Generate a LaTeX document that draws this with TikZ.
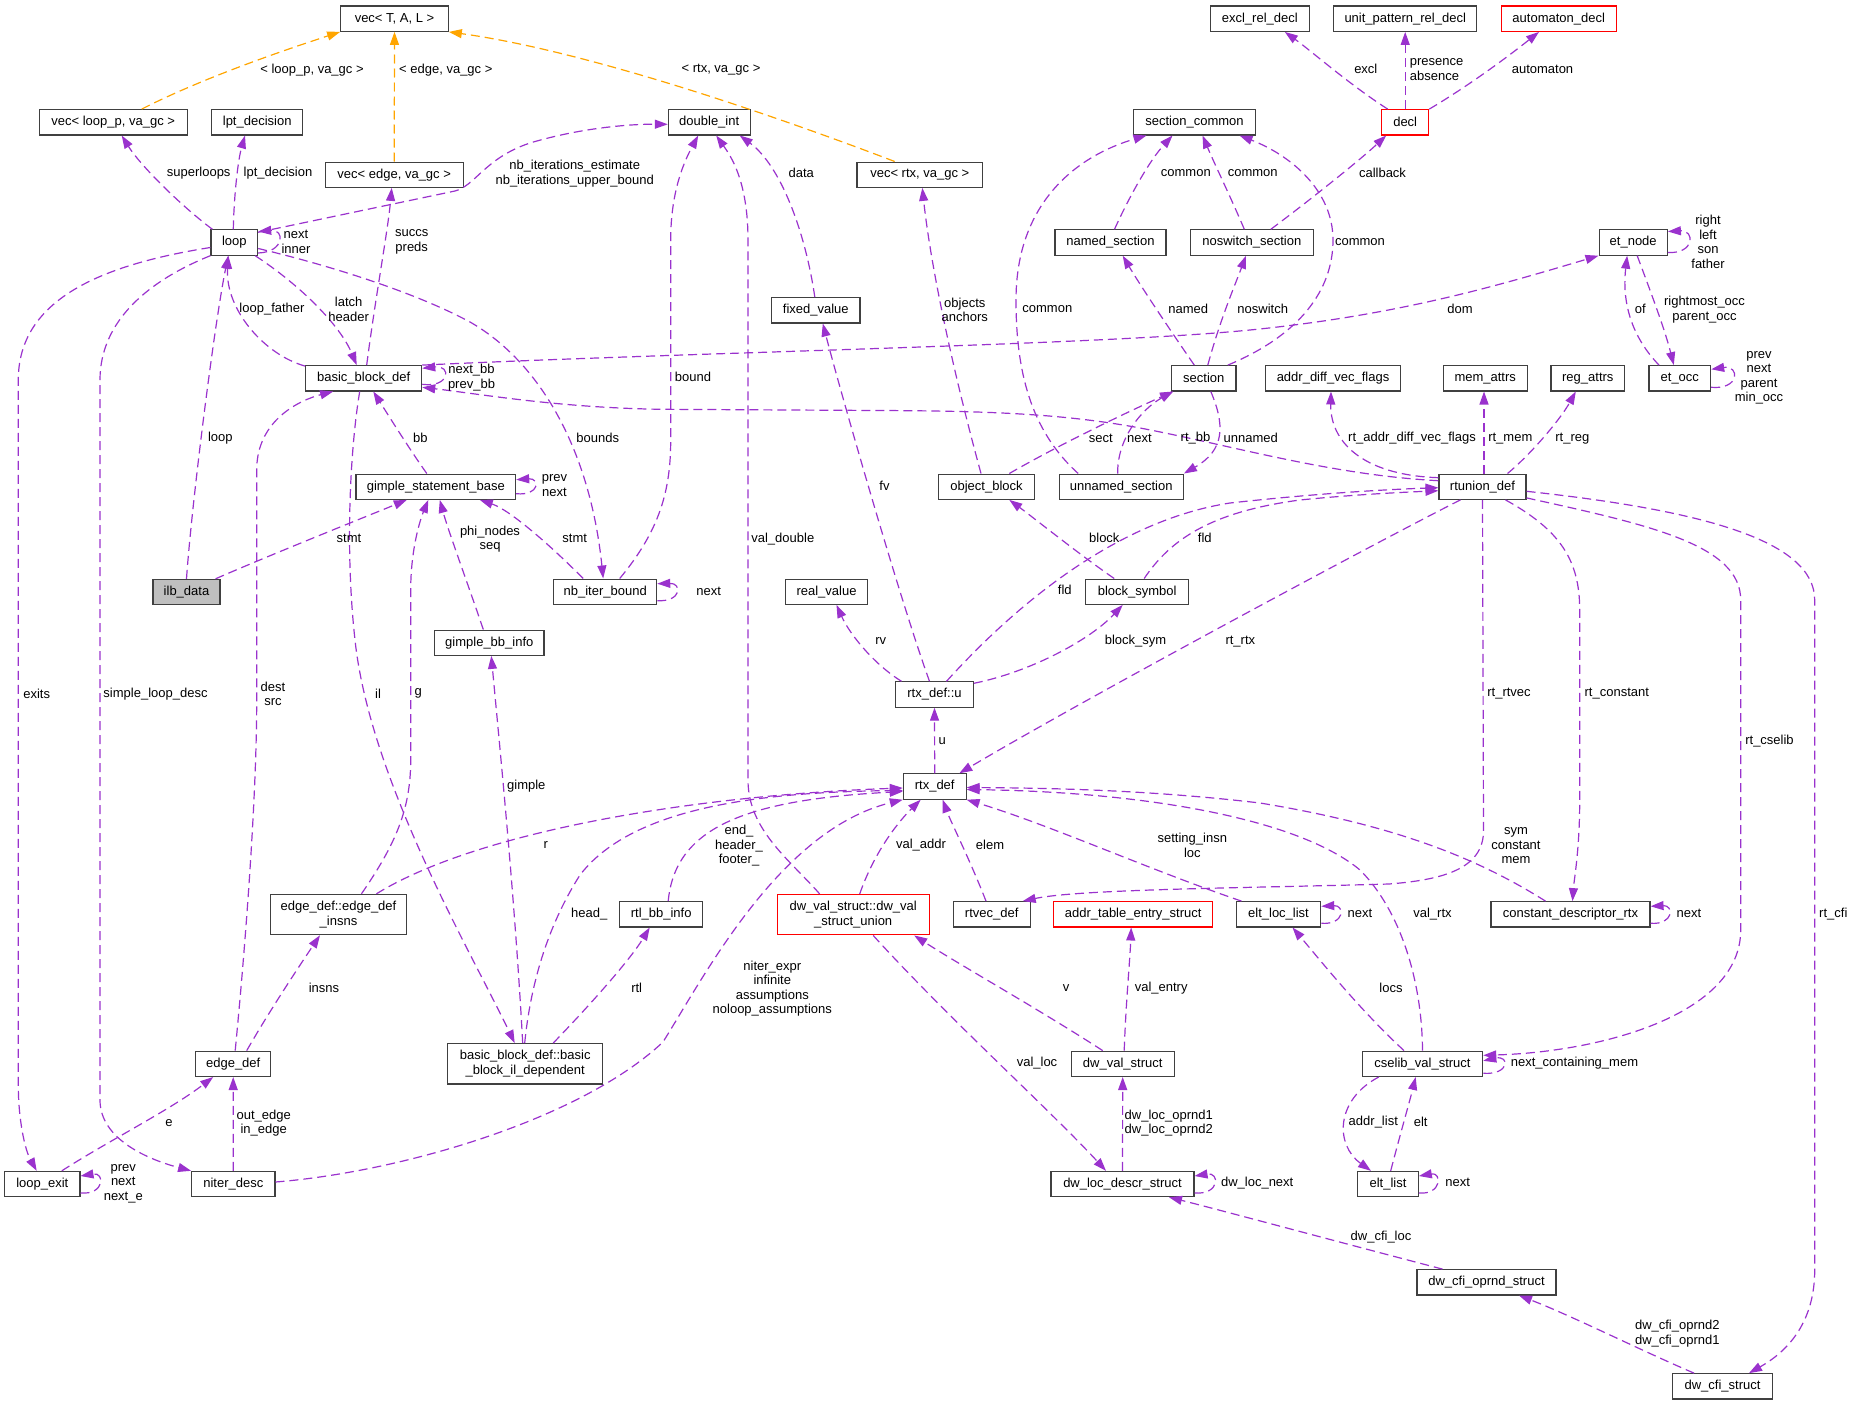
\documentclass[tikz,border=0pt]{standalone}
\usepackage{fontspec}
\setmainfont{Liberation Sans}
\usetikzlibrary{arrows.meta}
\definecolor{purp}{RGB}{154,50,205}
\definecolor{orng}{RGB}{255,165,0}
\definecolor{boxline}{RGB}{64,64,64}
\definecolor{ilbfill}{RGB}{191,191,191}
\newcommand\gfont{\fontsize{13}{14.5}\selectfont}
\begin{document}
\begin{tikzpicture}[x=1pt,y=-1pt,
 box/.style={draw=boxline, line width=1.1pt, fill=white, inner sep=0pt, minimum height=25.3pt, align=center, font=\gfont},
 box2/.style={box, minimum height=40.4pt},
 redbox/.style={draw=red},
 lab/.style={inner sep=0pt, align=center, font=\gfont},
 pe/.style={draw=purp, line width=1.2pt, dash pattern=on 9pt off 5pt, -{Triangle[length=13pt,width=9pt]}},
 oe/.style={draw=orng, line width=1.2pt, dash pattern=on 9pt off 5pt, -{Triangle[length=13pt,width=9pt]}}]
\useasboundingbox (0,0) rectangle (1853,1405);
% nodes
\node[box, minimum width=107.6pt] (vecTAL) at (394.5,18.7) {vec< T, A, L >};
\node[box, minimum width=148.3pt] (vecloop) at (113.2,122.3) {vec< loop\_p, va\_gc >};
\node[box, minimum width=91pt] (lpt) at (257.2,122.3) {lpt\_decision};
\node[box, minimum width=138.3pt] (vecedge) at (394.2,174.7) {vec< edge, va\_gc >};
\node[box, minimum width=46.7pt] (loop) at (234.3,242.5) {loop};
\node[box, minimum width=116pt] (bbd) at (363.7,378.3) {basic\_block\_def};
\node[box, minimum width=81.7pt] (dint) at (709.2,122.3) {double\_int};
\node[box, minimum width=88.3pt] (fixed) at (815.8,310.3) {fixed\_value};
\node[box, minimum width=125.7pt] (vecrtx) at (919.8,174.7) {vec< rtx, va\_gc >};
\node[box, minimum width=99pt] (excl) at (1259.8,18.7) {excl\_rel\_decl};
\node[box, minimum width=143pt] (unitpat) at (1405.2,18.7) {unit\_pattern\_rel\_decl};
\node[box, redbox, minimum width=115.3pt] (autom) at (1558.7,18.7) {automaton\_decl};
\node[box, minimum width=121.6pt] (seccom) at (1194.5,122.3) {section\_common};
\node[box, redbox, minimum width=47pt] (decl) at (1405.2,122.3) {decl};
\node[box, minimum width=111pt] (named) at (1110.5,242.5) {named\_section};
\node[box, minimum width=123pt] (noswitch) at (1251.8,242.5) {noswitch\_section};
\node[box, minimum width=68.3pt] (etnode) at (1633.2,242.5) {et\_node};
\node[box, minimum width=64.3pt] (section) at (1203.8,378.3) {section};
\node[box, minimum width=135.4pt] (addrdiff) at (1333,378.3) {addr\_diff\_vec\_flags};
\node[box, minimum width=84.3pt] (memattrs) at (1485.2,378.3) {mem\_attrs};
\node[box, minimum width=73.7pt] (regattrs) at (1587.8,378.3) {reg\_attrs};
\node[box, minimum width=61.7pt] (etocc) at (1679.8,378.3) {et\_occ};
\node[box, minimum width=159.7pt] (gsb) at (435.8,486.7) {gimple\_statement\_base};
\node[box, minimum width=95.6pt] (objblock) at (986.5,486.7) {object\_block};
\node[box, minimum width=124.3pt] (unnamed) at (1121.2,486.7) {unnamed\_section};
\node[box, minimum width=87pt] (rtunion) at (1482.5,486.7) {rtunion\_def};
\node[box, fill=ilbfill, minimum width=67pt] (ilb) at (186.5,592) {ilb\_data};
\node[box, minimum width=103pt] (nbiter) at (605.2,591.7) {nb\_iter\_bound};
\node[box, minimum width=81.6pt] (realv) at (826.5,591.7) {real\_value};
\node[box, minimum width=103pt] (blocksym) at (1137.2,591.7) {block\_symbol};
\node[box, minimum width=109.3pt] (gbb) at (489.3,642.7) {gimple\_bb\_info};
\node[box, minimum width=77.6pt] (rtxu) at (934.5,694.5) {rtx\_def::u};
\node[box, minimum width=62.7pt] (rtxdef) at (934.7,786.5) {rtx\_def};
\node[box2, minimum width=136.4pt] (edgeinsns) at (338.5,914.5) {edge\_def::edge\_def\\\_insns};
\node[box, minimum width=83pt] (rtlbb) at (661.2,914.3) {rtl\_bb\_info};
\node[box2, redbox, minimum width=152.3pt] (dwunion) at (853.2,914.7) {dw\_val\_struct::dw\_val\\\_struct\_union};
\node[box, minimum width=76.7pt] (rtvec) at (991.7,914.3) {rtvec\_def};
\node[box, redbox, minimum width=159pt] (addrtab) at (1133.2,914.3) {addr\_table\_entry\_struct};
\node[box, minimum width=84.4pt] (eltloc) at (1278.5,914.3) {elt\_loc\_list};
\node[box, minimum width=159pt] (constdesc) at (1570.5,914.3) {constant\_descriptor\_rtx};
\node[box, minimum width=75pt] (edgedef) at (233.2,1063.8) {edge\_def};
\node[box2, minimum width=155pt] (bbil) at (525.2,1063.8) {basic\_block\_def::basic\\\_block\_il\_dependent};
\node[box, minimum width=103.3pt] (dwval) at (1122.7,1063.8) {dw\_val\_struct};
\node[box, minimum width=120.4pt] (cselib) at (1422.5,1063.8) {cselib\_val\_struct};
\node[box, minimum width=75.3pt] (loopexit) at (42.3,1184) {loop\_exit};
\node[box, minimum width=83.3pt] (niter) at (233.3,1184) {niter\_desc};
\node[box, minimum width=143pt] (dwloc) at (1122.5,1184) {dw\_loc\_descr\_struct};
\node[box, minimum width=60.6pt] (eltlist) at (1388,1184) {elt\_list};
\node[box, minimum width=139pt] (cfiop) at (1486.5,1282.3) {dw\_cfi\_oprnd\_struct};
\node[box, minimum width=100.4pt] (cfis) at (1722.5,1386.3) {dw\_cfi\_struct};
% orange edges
\draw[oe] ([xshift=28.5pt]vecloop.north) .. controls (201.7,78.5) and (280.7,51.3) .. (vecTAL.south west);
\draw[oe] (vecedge.north) -- (vecTAL.south);
\draw[oe] ([xshift=-25.1pt]vecrtx.north) .. controls (760,110) and (580,50) .. (vecTAL.south east);
% purple edges
\draw[pe] ([xshift=2pt]loop.north west) .. controls (180,205) and (140,165) .. ([xshift=8.5pt]vecloop.south);
\draw[pe] ([xshift=-1pt]loop.north) .. controls (234,195) and (238,160) .. ([xshift=-12.2pt]lpt.south);
\draw[pe] ([yshift=-3pt]loop.north east) -- (455,191) .. controls (475,186) and (485,158) .. (530,143) .. controls (580,128) and (630,124) .. ([yshift=-2pt]dint.west);
\draw[pe] ([yshift=-10.5pt]loop.east) .. controls (285,252) and (285,229) .. ([yshift=11pt]loop.east);
\draw[pe] ([yshift=-1pt]bbd.north west) .. controls (265,355) and (225,310) .. ([xshift=-6pt]loop.south);
\draw[pe] ([xshift=-3pt]loop.south east) .. controls (300,285) and (340,325) .. ([xshift=-7pt]bbd.north);
\draw[pe] ([xshift=3pt]bbd.north) .. controls (375,300) and (388,230) .. ([xshift=-2.5pt]vecedge.south);
\draw[pe] ([yshift=-6pt]loop.east) .. controls (340,268) and (420,295) .. (470,322) .. controls (540,362) and (590,450) .. ([xshift=-2pt]nbiter.north);
\draw[pe] (ilb.north) .. controls (192,500) and (215,320) .. ([xshift=-6pt]loop.south);
\draw[pe] ([yshift=-5pt]loop.west) .. controls (100,265) and (18.3,300) .. (18.3,380) -- (18.3,1085) .. controls (18.3,1120) and (25,1150) .. ([xshift=-5.6pt]loopexit.north);
\draw[pe] (loop.south west) .. controls (150,280) and (100,320) .. (100,380) -- (100,1100) .. controls (100,1140) and (150,1160) .. (niter.north west);
\draw[pe] ([xshift=-5pt]ilb.north east) .. controls (270,555) and (370,515) .. ([xshift=-29pt]gsb.south);
\draw[pe] ([yshift=-6pt]bbd.east) .. controls (450,388) and (452,365) .. ([yshift=10pt]bbd.east);
\draw[pe] ([yshift=6pt]rtunion.west) .. controls (1330,475) and (1230,445) .. (1140,428) .. controls (1060,413) and (980,411) .. (880,410.5) -- (663,409.3) .. controls (560,408) and (480,394) .. ([yshift=-9pt]bbd.east);
\draw[pe] (bbd.north east) .. controls (700,352) and (1100,345) .. (1250,330) .. controls (1400,315) and (1500,285) .. (etnode.south west);
\draw[pe] ([xshift=-9pt]gsb.north) .. controls (410,450) and (385,410) .. ([xshift=9.6pt]bbd.south);
\draw[pe] ([yshift=-7pt]gsb.east) .. controls (540,496) and (540,478) .. ([yshift=7pt]gsb.east);
\draw[pe] ([xshift=-22pt]nbiter.north) .. controls (550,545) and (510,510) .. ([xshift=44pt]gsb.south);
\draw[pe] ([xshift=-6pt]gbb.north) .. controls (470,590) and (448,530) .. ([xshift=4pt]gsb.south);
\draw[pe] ([xshift=14.5pt]nbiter.north) .. controls (660,530) and (670.7,490) .. (670.7,440) -- (670.7,240) .. controls (670.7,190) and (685,160) .. ([xshift=-11pt]dint.south);
\draw[pe] ([yshift=-9pt]nbiter.east) .. controls (682,602) and (682,583) .. ([yshift=8pt]nbiter.east);
\draw[pe] ([xshift=-33.5pt]dwunion.north) .. controls (790,860) and (748,830) .. (748,780) -- (748,240) .. controls (748,180) and (730,155) .. ([xshift=7pt]dint.south);
\draw[pe] ([xshift=-1pt]fixed.north) .. controls (805,230) and (780,165) .. ([xshift=30.5pt]dint.south);
\draw[pe] ([xshift=-5pt]rtxu.north) .. controls (900,600) and (840,390) .. ([xshift=7pt]fixed.south);
\draw[pe] ([xshift=-33pt]rtxu.north) .. controls (875,665) and (850,635) .. ([xshift=10pt]realv.south);
\draw[pe] ([xshift=12pt]rtxu.north) .. controls (1020,600) and (1120,520) .. (1230,503) .. controls (1330,492) and (1400,489) .. ([yshift=-1pt]rtunion.west);
\draw[pe] ([xshift=7pt]blocksym.north) .. controls (1170,540) and (1210,512) .. (1300,500) .. controls (1360,494) and (1410,492) .. ([yshift=-4pt]rtunion.west);
\draw[pe] ([xshift=-23pt]blocksym.north) .. controls (1080,555) and (1030,515) .. ([xshift=22.8pt]objblock.south);
\draw[pe] ([yshift=-2pt]rtxu.north east) .. controls (1030,672) and (1090,640) .. ([xshift=-14.5pt]blocksym.south);
\draw[pe] (rtxdef.north) -- (rtxu.south);
\draw[pe] ([xshift=-22pt]rtunion.south) .. controls (1400,530) and (1100,690) .. ([xshift=24.6pt]rtxdef.north);
\draw[pe] (rtunion.south) -- (1483.5,830) .. controls (1484,870) and (1440,880) .. (1389,884) .. controls (1250,888) and (1080,889) .. ([xshift=31pt]rtvec.north);
\draw[pe] ([xshift=23pt]rtunion.south) .. controls (1560,530) and (1579.7,560) .. (1579.7,610) -- (1579.7,800) .. controls (1579.7,850) and (1574,880) .. ([xshift=2pt]constdesc.north);
\draw[pe] ([yshift=2pt]rtunion.south east) .. controls (1650,525) and (1740.7,545) .. (1740.7,600) -- (1740.7,930) .. controls (1740.7,1015) and (1600,1052) .. ([yshift=8.5pt]cselib.east);
\draw[pe] ([yshift=-4.6pt]rtunion.east) .. controls (1700,510) and (1814.7,540) .. (1814.7,600) -- (1814.7,1270) .. controls (1814.7,1320) and (1790,1350) .. ([xshift=26.5pt]cfis.north);
\draw[pe] ([yshift=9pt]rtunion.west) .. controls (1360,475) and (1330,440) .. ([xshift=-2pt]addrdiff.south);
\draw[pe] ([xshift=1.5pt]rtunion.north) -- ([xshift=-1.2pt]memattrs.south);
\draw[pe] ([xshift=25pt]rtunion.north) .. controls (1530,455) and (1560,420) .. ([xshift=-12pt]regattrs.south);
\draw[pe] ([yshift=-10pt]etnode.east) .. controls (1695,254) and (1695,230) .. ([yshift=11pt]etnode.east);
\draw[pe] ([xshift=-20.8pt]etocc.north) .. controls (1630,335) and (1622,300) .. ([xshift=-6pt]etnode.south);
\draw[pe] ([xshift=4pt]etnode.south) .. controls (1650,290) and (1665,330) .. ([xshift=-6pt]etocc.north);
\draw[pe] ([yshift=-9pt]etocc.east) .. controls (1740,390) and (1740,365) .. ([yshift=9pt]etocc.east);
\draw[pe] ([xshift=-17.5pt]decl.north) .. controls (1350,85) and (1310,50) .. ([xshift=25pt]excl.south);
\draw[pe] (decl.north) -- (unitpat.south);
\draw[pe] (decl.north east) .. controls (1470,85) and (1510,55) .. ([xshift=-19.7pt]autom.south);
\draw[pe] ([xshift=19pt]noswitch.north) .. controls (1310,200) and (1360,160) .. ([xshift=-19pt]decl.south);
\draw[pe] ([xshift=4pt]named.north) .. controls (1130,195) and (1150,160) .. ([xshift=-22pt]seccom.south);
\draw[pe] ([xshift=-7.5pt]noswitch.north) .. controls (1232,200) and (1215,165) .. ([xshift=8pt]seccom.south);
\draw[pe] ([xshift=24pt]section.north) .. controls (1300,335) and (1333,290) .. (1333,240) .. controls (1333,190) and (1290,155) .. ([xshift=45pt]seccom.south);
\draw[pe] ([xshift=-43pt]unnamed.north) .. controls (1030,430) and (1016,370) .. (1016,300) .. controls (1016,200) and (1080,155) .. ([xshift=-48pt]seccom.south);
\draw[pe] ([xshift=-9.5pt]section.north) .. controls (1170,330) and (1140,285) .. ([xshift=12.2pt]named.south);
\draw[pe] ([xshift=4pt]section.north) .. controls (1220,320) and (1235,285) .. ([xshift=-5.8pt]noswitch.south);
\draw[pe] ([xshift=7pt]section.south) .. controls (1225,425) and (1225,450) .. (unnamed.north east);
\draw[pe] ([xshift=22.8pt]objblock.north) .. controls (1050,450) and (1110,420) .. ([xshift=2pt]section.south west);
\draw[pe] ([xshift=-3.5pt]unnamed.north) .. controls (1117,440) and (1140,410) .. ([xshift=2pt]section.south west);
\draw[pe] ([xshift=-5.5pt]objblock.north) .. controls (950,360) and (930,260) .. ([xshift=2.5pt]vecrtx.south);
\draw[pe] ([xshift=2pt]edgedef.north) .. controls (245,950) and (256.7,800) .. (256.7,700) -- (256.7,470) .. controls (256.7,420) and (300,400) .. ([xshift=-30.5pt]bbd.south);
\draw[pe] ([xshift=-4pt]bbd.south) .. controls (350,450) and (345,550) .. (355,640) .. controls (370,780) and (470,950) .. ([xshift=-10.5pt]bbil.north);
\draw[pe] ([xshift=23pt]edgeinsns.north) .. controls (395,845) and (410.7,810) .. (410.7,760) -- (410.7,590) .. controls (410.7,550) and (420,520) .. ([xshift=-7.5pt]gsb.south);
\draw[pe] ([xshift=38pt]edgeinsns.north) .. controls (480,830) and (700,795) .. ([yshift=-1.5pt]rtxdef.west);
\draw[pe] ([xshift=-0.5pt]bbil.north) .. controls (530,990) and (545,930) .. (580,875) .. controls (630,810) and (750,792) .. ([yshift=-4pt]rtxdef.west);
\draw[pe] ([xshift=-2.5pt]bbil.north) .. controls (515,900) and (500,750) .. ([xshift=2pt]gbb.south);
\draw[pe] ([xshift=28pt]bbil.north) .. controls (590,1005) and (630,960) .. ([xshift=-11.5pt]rtlbb.south);
\draw[pe] ([xshift=7pt]rtlbb.north) .. controls (675,830) and (740,800) .. ([yshift=-5pt]rtxdef.west);
\draw[pe] ([xshift=6.5pt]dwunion.north) .. controls (875,850) and (900,820) .. ([xshift=-14pt]rtxdef.south);
\draw[pe] ([xshift=-5.7pt]rtvec.north) .. controls (970,860) and (950,820) .. ([xshift=8pt]rtxdef.south);
\draw[pe] ([xshift=-37pt]eltloc.north) .. controls (1150,870) and (1050,825) .. (rtxdef.south east);
\draw[pe] (cselib.north) .. controls (1422,980) and (1400,910) .. (1360,870) .. controls (1300,820) and (1150,792) .. ([yshift=-3pt]rtxdef.east);
\draw[pe] ([xshift=-25pt]constdesc.north) .. controls (1480,860) and (1400,826) .. (1260,803) .. controls (1150,790) and (1050,788) .. ([yshift=-1pt]rtxdef.east);
\draw[pe] ([yshift=-9pt]eltloc.east) .. controls (1345,925) and (1345,905) .. ([yshift=8pt]eltloc.east);
\draw[pe] ([yshift=-9pt]constdesc.east) .. controls (1674,925) and (1674,905) .. ([yshift=8pt]constdesc.east);
\draw[pe] ([yshift=2pt]niter.east) .. controls (400,1172) and (580,1120) .. (663,1042) .. controls (705,975) and (780,830) .. (rtxdef.south west);
\draw[pe] ([xshift=13.5pt]edgedef.north) .. controls (270,1010) and (300,965) .. ([xshift=-18.5pt]edgeinsns.south);
\draw[pe] ([xshift=19.5pt]loopexit.north) .. controls (110,1140) and (170,1110) .. ([xshift=-20pt]edgedef.south);
\draw[pe] ([yshift=-9pt]loopexit.east) .. controls (105,1195) and (105,1172) .. ([yshift=8pt]loopexit.east);
\draw[pe] (niter.north) -- (edgedef.south);
\draw[pe] ([xshift=-20pt]dwval.north) .. controls (1040,1010) and (960,965) .. ([xshift=61pt]dwunion.south);
\draw[pe] ([xshift=1.5pt]dwval.north) .. controls (1126,1000) and (1130,960) .. ([xshift=-2pt]addrtab.south);
\draw[pe] ([xshift=20pt]dwunion.south) .. controls (950,1020) and (1050,1110) .. ([xshift=-16.5pt]dwloc.north);
\draw[pe] (dwloc.north) -- (dwval.south);
\draw[pe] ([yshift=-9pt]dwloc.east) .. controls (1220,1195) and (1220,1172) .. ([yshift=8pt]dwloc.east);
\draw[pe] ([xshift=-44pt]cfiop.north) .. controls (1350,1245) and (1220,1210) .. ([xshift=46.5pt]dwloc.south);
\draw[pe] ([xshift=-28.5pt]cfis.north) .. controls (1640,1350) and (1570,1315) .. ([xshift=32.5pt]cfiop.south);
\draw[pe] ([xshift=-18.5pt]cselib.north) .. controls (1360,1010) and (1320,960) .. ([xshift=14pt]eltloc.south);
\draw[pe] ([xshift=17pt]cselib.south west) .. controls (1335,1100) and (1335,1145) .. ([xshift=-17pt]eltlist.north);
\draw[pe] ([xshift=2.7pt]eltlist.north) .. controls (1400,1135) and (1410,1100) .. ([xshift=-6.8pt]cselib.south);
\draw[pe] ([yshift=-9pt]eltlist.east) .. controls (1442,1195) and (1442,1172) .. ([yshift=8pt]eltlist.east);
\draw[pe] ([yshift=-9.5pt]cselib.east) .. controls (1510,1075) and (1510,1055) .. ([yshift=3pt]cselib.east);
% labels
\node[lab] (lb1) at (312,70) {< loop\_p, va\_gc >};
\node[lab, anchor=west] (lb2) at (399,70) {< edge, va\_gc >};
\node[lab] (lb3) at (721,70) {< rtx, va\_gc >};
\node[lab] (lb4) at (198.7,173.3) {superloops};
\node[lab] (lb5) at (278,173.3) {lpt\_decision};
\node[lab] (lb6) at (574.7,173.7) {nb\_iterations\_estimate\\nb\_iterations\_upper\_bound};
\node[lab] (lb7) at (801.3,173.3) {data};
\node[lab] (lb8) at (1365.8,69.3) {excl};
\node[lab, anchor=west, align=left] (lb9) at (1409.7,69.7) {presence\\absence};
\node[lab] (lb10) at (1542.5,69.3) {automaton};
\node[lab] (lb11) at (1185.8,173.3) {common};
\node[lab] (lb12) at (1252.7,173.3) {common};
\node[lab] (lb13) at (1382.5,173.3) {callback};
\node[lab] (lb14) at (964.8,309.7) {objects\\anchors};
\node[lab] (lb15) at (296,241.7) {next\\inner};
\node[lab] (lb16) at (411.7,241.7) {succs\\preds};
\node[lab] (lb17) at (1360,241.7) {common};
\node[lab] (lb18) at (1708,241.7) {right\\left\\son\\father};
\node[lab] (lb19) at (272,309.3) {loop\_father};
\node[lab] (lb20) at (348.7,309.2) {latch\\header};
\node[lab] (lb21) at (1047.3,309.3) {common};
\node[lab] (lb22) at (1188.3,309.3) {named};
\node[lab] (lb23) at (1262.7,309.3) {noswitch};
\node[lab] (lb24) at (1460,309.3) {dom};
\node[lab] (lb25) at (1640.3,309.3) {of};
\node[lab] (lb26) at (1704.5,309.7) {rightmost\_occ\\parent\_occ};
\node[lab] (lb27) at (693,377.3) {bound};
\node[lab] (lb28) at (471.5,377.8) {next\_bb\\prev\_bb};
\node[lab] (lb29) at (1759,377.7) {prev\\next\\parent\\min\_occ};
\node[lab] (lb30) at (220.3,438.3) {loop};
\node[lab] (lb31) at (597.7,438.3) {bounds};
\node[lab] (lb32) at (420.3,438.3) {bb};
\node[lab] (lb33) at (1100.8,438.3) {sect};
\node[lab] (lb34) at (1139.5,438.3) {next};
\node[lab] (lb35) at (1195.5,438.3) {rt\_bb};
\node[lab] (lb36) at (1250.7,438.3) {unnamed};
\node[lab] (lb37) at (1412,438.3) {rt\_addr\_diff\_vec\_flags};
\node[lab] (lb38) at (1510.3,438.3) {rt\_mem};
\node[lab] (lb39) at (1572.3,438.3) {rt\_reg};
\node[lab] (lb40) at (554.5,485.7) {prev\\next};
\node[lab] (lb41) at (884.5,485.3) {fv};
\node[lab] (lb42) at (349,538.7) {stmt};
\node[lab] (lb43) at (490,539.2) {phi\_nodes\\seq};
\node[lab] (lb44) at (574.7,538.7) {stmt};
\node[lab] (lb45) at (782.8,538.7) {val\_double};
\node[lab] (lb46) at (1104.3,538.3) {block};
\node[lab] (lb47) at (1204.8,538.3) {fld};
\node[lab] (lb48) at (1064.8,590.3) {fld};
\node[lab] (lb49) at (708.7,591) {next};
\node[lab] (lb50) at (880.8,641.3) {rv};
\node[lab] (lb51) at (1135.5,641.3) {block\_sym};
\node[lab] (lb52) at (1240.3,641.3) {rt\_rtx};
\node[lab] (lb53) at (36.7,693.7) {exits};
\node[lab] (lb54) at (155.5,693.7) {simple\_loop\_desc};
\node[lab] (lb55) at (273,693.7) {dest\\src};
\node[lab] (lb56) at (378,693.7) {il};
\node[lab] (lb57) at (418.3,693.7) {g};
\node[lab] (lb58) at (1509,693.7) {rt\_rtvec};
\node[lab] (lb59) at (1616.8,693.7) {rt\_constant};
\node[lab] (lb60) at (942.3,740.7) {u};
\node[lab] (lb61) at (1769.5,740.7) {rt\_cselib};
\node[lab] (lb62) at (526.3,785.7) {gimple};
\node[lab] (lb63) at (739,845.7) {end\_\\header\_\\footer\_};
\node[lab] (lb64) at (545.8,845.3) {r};
\node[lab] (lb65) at (921,845.3) {val\_addr};
\node[lab] (lb66) at (990,845.3) {elem};
\node[lab] (lb67) at (1192.3,845.5) {setting\_insn\\loc};
\node[lab] (lb68) at (1516,845.7) {sym\\constant\\mem};
\node[lab] (lb69) at (589.3,913.7) {head\_};
\node[lab] (lb70) at (1360,913.7) {next};
\node[lab] (lb71) at (1432.5,913.7) {val\_rtx};
\node[lab] (lb72) at (1689,913.7) {next};
\node[lab, anchor=west] (lb73) at (1819,913.7) {rt\_cfi};
\node[lab] (lb74) at (772.3,988.7) {niter\_expr\\infinite\\assumptions\\noloop\_assumptions};
\node[lab] (lb75) at (636.7,988.3) {rtl};
\node[lab] (lb76) at (324,988.3) {insns};
\node[lab] (lb77) at (1066,988.3) {v};
\node[lab] (lb78) at (1161.2,988.3) {val\_entry};
\node[lab] (lb79) at (1391,988.3) {locs};
\node[lab] (lb80) at (1037,1062.7) {val\_loc};
\node[lab] (lb81) at (1574.5,1062.7) {next\_containing\_mem};
\node[lab] (lb82) at (169,1123.3) {e};
\node[lab] (lb83) at (263.7,1123.2) {out\_edge\\in\_edge};
\node[lab] (lb84) at (1168.8,1123.2) {dw\_loc\_oprnd1\\dw\_loc\_oprnd2};
\node[lab] (lb85) at (1373.3,1122.3) {addr\_list};
\node[lab] (lb86) at (1420.7,1122.3) {elt};
\node[lab] (lb87) at (123.3,1183.5) {prev\\next\\next\_e};
\node[lab] (lb88) at (1257.2,1182.7) {dw\_loc\_next};
\node[lab] (lb89) at (1457.7,1182.7) {next};
\node[lab] (lb90) at (1381,1236.7) {dw\_cfi\_loc};
\node[lab] (lb91) at (1677.3,1333.8) {dw\_cfi\_oprnd2\\dw\_cfi\_oprnd1};
\end{tikzpicture}
\end{document}
